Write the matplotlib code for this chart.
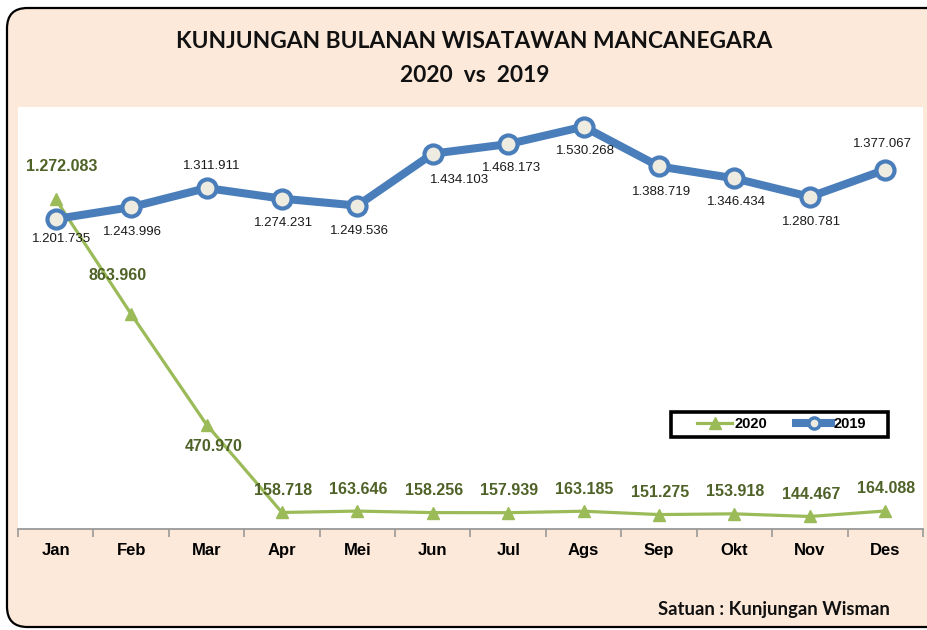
import matplotlib
matplotlib.use("Agg")
import matplotlib.pyplot as plt
from matplotlib.patches import FancyBboxPatch, Rectangle
from matplotlib.lines import Line2D

months = ["Jan", "Feb", "Mar", "Apr", "Mei", "Jun", "Jul", "Ags", "Sep", "Okt", "Nov", "Des"]
v2020 = [1272083, 863960, 470970, 158718, 163646, 158256, 157939, 163185, 151275, 153918, 144467, 164088]
v2019 = [1201735, 1243996, 1311911, 1274231, 1249536, 1434103, 1468173, 1530268, 1388719, 1346434, 1280781, 1377067]

def fmt(v):
    return f"{v:,}".replace(",", ".")

W, H = 928, 630
fig = plt.figure(figsize=(W / 100, H / 100), dpi=100)
fig.patch.set_facecolor("white")

# peach rounded panel
panel = FancyBboxPatch((7 / W, 1 - 627 / H), (W + 30 - 7) / W, (627 - 8) / H,
                       boxstyle="round,pad=0,rounding_size=0.022",
                       transform=fig.transFigure, facecolor="#FDE9D9",
                       edgecolor="black", linewidth=1.6, zorder=0,
                       mutation_aspect=W / H)
fig.patches.append(panel)

# white plot area
fig.patches.append(Rectangle((18 / W, 1 - 529 / H), (923 - 18) / W, (529 - 107) / H,
                             transform=fig.transFigure, facecolor="white",
                             edgecolor="none", zorder=1))

ax = fig.add_axes([18 / W, 1 - 529 / H, (923 - 18) / W, (529 - 107) / H])
ax.set_facecolor("none")
ax.set_zorder(2)
x = list(range(len(months)))
ax.set_xlim(-0.5, 11.5)
ax.set_ylim(100000, 1600000)

c19 = "#4A7EBB"
c20 = "#9BBB59"
ax.plot(x, v2020, color=c20, lw=2.3, marker="^", ms=8.5, mfc=c20, mec=c20, zorder=3)
ax.plot(x, v2019, color=c19, lw=5.8, marker="o", ms=13, mfc="#EEECE1", mec=c19,
        mew=3, zorder=4)

# labels 2019 (offsets in pixels)
off19 = [(6, -20), (1, -25), (5, 22), (2, -24), (2, -25), (27, -26),
         (3, -24), (2, -24), (2, -26), (2, -24), (2, -25), (-3, 26)]
for i, v in enumerate(v2019):
    ax.annotate(fmt(v), (i, v), xytext=off19[i], textcoords="offset pixels",
                ha="center", va="center", fontsize=9.5, color="#1a1a1a",
                family="Liberation Sans", zorder=6)

off20 = [(6, 33), (-14, 39), (7, -22)] + [(1, 22)] * 9
for i, v in enumerate(v2020):
    ax.annotate(fmt(v), (i, v), xytext=off20[i], textcoords="offset pixels",
                ha="center", va="center", fontsize=11.5, color="#4F6228",
                fontweight="bold", family="Liberation Sans", zorder=6)

for s in ["top", "right", "left"]:
    ax.spines[s].set_visible(False)
ax.spines["bottom"].set_color("#999999")
ax.spines["bottom"].set_linewidth(1.3)
ax.set_yticks([])
ax.set_xticks([i - 0.5 for i in range(13)])
ax.set_xticklabels([])
ax.set_xticks(x, minor=True)
ax.set_xticklabels(months, minor=True, fontsize=12, fontweight="bold",
                   family="Liberation Sans")
ax.tick_params(axis="x", which="major", length=6, width=1.2, color="#999999", direction="out")
ax.tick_params(axis="x", which="minor", length=0, pad=10)

# legend frame drawn manually
fig.patches.append(Rectangle((671 / W, 1 - 437 / H), (888 - 671) / W, (437 - 412) / H,
                             transform=fig.transFigure, facecolor="white",
                             edgecolor="black", linewidth=2.6, zorder=9))
h20 = Line2D([], [], color=c20, lw=2.3, marker="^", ms=8)
h19 = Line2D([], [], color=c19, lw=5.8, marker="o", ms=8, mfc="#EEECE1", mec=c19, mew=2.5)
leg = fig.legend([h20, h19], ["2020", "2019"], loc="center",
                 bbox_to_anchor=((671 + 888) / 2 / W + 2 / W, 1 - 424.5 / H), ncol=2,
                 frameon=False, handlelength=2.4, handletextpad=0.15,
                 columnspacing=2.0, borderpad=0.2,
                 prop={"family": "Liberation Sans", "weight": "bold", "size": 10.5})
leg.set_zorder(10)

fig.text(474.5 / W, 1 - 42 / H, "KUNJUNGAN BULANAN WISATAWAN MANCANEGARA",
         ha="center", va="center", fontsize=16.4, family="Lato", fontweight="bold",
         color="#111111")
fig.text(474.5 / W, 1 - 75 / H, "2020  vs  2019",
         ha="center", va="center", fontsize=16.4, family="Lato", fontweight="bold",
         color="#111111")
fig.text(890 / W, 1 - 610 / H, "Satuan : Kunjungan Wisman",
         ha="right", va="center", fontsize=13.3, family="Lato", fontweight="bold",
         color="#111111")

fig.savefig("out.png", dpi=100)
